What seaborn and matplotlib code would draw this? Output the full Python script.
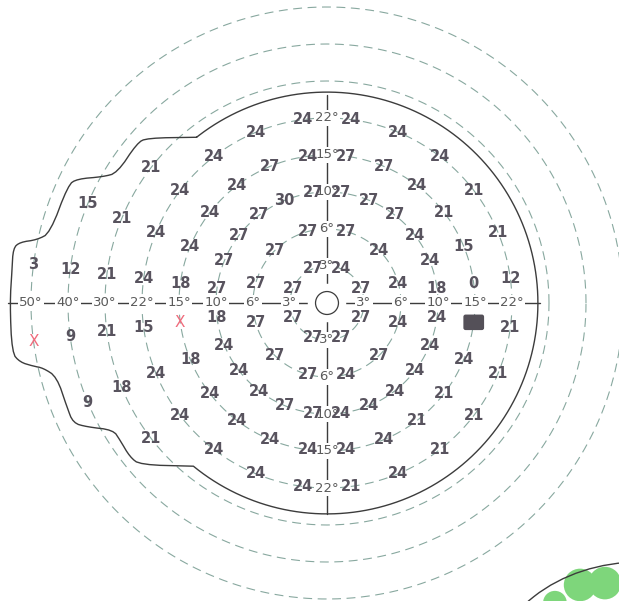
import numpy as np
import pandas as pd
import matplotlib
matplotlib.use('Agg')
import matplotlib.pyplot as plt
import seaborn as sns
from matplotlib.patches import Circle, FancyBboxPatch, Ellipse

# test rings (eccentricity in degrees); each ring is one display step further out
ring_ecc = [3, 6, 10, 15, 22, 30, 40, 50]

# meridians (deg, counter-clockwise from the right) and thresholds per ring
# None = stimulus not seen (drawn as X)
angles_3 = [22.5, 67.5, 112.5, 157.5, 202.5, 247.5, 292.5, 337.5]
vals_3 = [27, 24, 27, 27, 27, 27, 27, 27]

angles_6 = [15, 45, 75, 105, 135, 165, 195, 225, 255, 285, 315, 345]
vals_6 = [24, 24, 27, 27, 27, 27, 27, 27, 27, 24, 27, 24]

angles_10 = [7.5, 22.5, 37.5, 52.5, 67.5, 82.5, 97.5, 112.5, 127.5, 142.5, 157.5, 172.5,
             187.5, 202.5, 217.5, 232.5, 247.5, 262.5, 277.5, 292.5, 307.5, 322.5, 337.5, 352.5]
vals_10 = [18, 24, 24, 27, 27, 27, 27, 30, 27, 27, 27, 27,
           18, 24, 24, 24, 27, 27, 24, 24, 24, 24, 24, 24]

angles_15 = [7.5, 22.5, 37.5, 52.5, 67.5, 82.5, 97.5, 112.5, 127.5, 142.5, 157.5, 172.5,
             187.5, 202.5, 217.5, 232.5, 247.5, 262.5, 277.5, 292.5, 307.5, 322.5, 337.5]
vals_15 = [0, 15, 21, 24, 27, 27, 24, 27, 24, 24, 24, 18,
           None, 18, 24, 24, 24, 24, 24, 24, 21, 21, 24]

angles_22 = angles_10
vals_22 = [12, 21, 21, 24, 24, 24, 24, 24, 24, 24, 24, 24,
           15, 24, 24, 24, 24, 24, 21, 24, 21, 21, 21, 21]

angles_30 = [142.5, 157.5, 172.5, 187.5, 202.5, 217.5]
vals_30 = [21, 21, 21, 21, 18, 21]

angles_40 = [157.5, 172.5, 187.5, 202.5]
vals_40 = [15, 12, 9, 9]

angles_50 = [172.5, 187.5]
vals_50 = [3, None]

# blind spot (ecc, meridian)
blind_spot = (15, 352.5)

# tested-area outline on the temporal (left) side, display radius in ring steps
outline_angle = [128.2, 137.5, 139.9, 148.2, 150.6, 153.6, 155.5, 165.8, 167.7, 168.8, 170.1,
                 174.0, 180.0, 189.0, 190.9, 192.1, 192.9, 195.3, 201.8, 205.3, 207.3, 210.7,
                 213.5, 218.0, 220.9, 230.7]
outline_r = [5.70, 6.60, 6.71, 6.67, 6.95, 7.54, 7.69, 7.72, 8.02, 8.46, 8.61,
             8.56, 8.57, 8.62, 8.45, 8.13, 7.87, 7.57, 7.57, 7.59, 7.30, 6.72,
             6.71, 6.76, 6.68, 5.70]
outline_arc_r = 5.70

axis_left = ['50°', '40°', '30°', '22°', '15°', '10°', '6°', '3°']
axis_short = ['3°', '6°', '10°', '15°', '22°']

# corner of the neighbouring panel (cut off by the crop)
corner_x = [6.84, 7.51, 6.16]
corner_y = [-7.62, -7.57, -8.10]
corner_size = [0.44, 0.44, 0.32]

num_color = '#58535e'
grid_color = '#88a89f'


def disp_r(ecc):
    return np.interp(ecc, [0] + ring_ecc, np.arange(len(ring_ecc) + 1))


def to_xy(r, ang):
    a = np.deg2rad(np.asarray(ang, dtype=float))
    return r * np.cos(a), r * np.sin(a)


def round_corners(x, y, n=2):
    # chaikin corner cutting, ends kept fixed
    for _ in range(n):
        qx = 0.75 * x[:-1] + 0.25 * x[1:]
        qy = 0.75 * y[:-1] + 0.25 * y[1:]
        rx = 0.25 * x[:-1] + 0.75 * x[1:]
        ry = 0.25 * y[:-1] + 0.75 * y[1:]
        mx = np.empty(2 * qx.size)
        my = np.empty(2 * qy.size)
        mx[0::2], mx[1::2] = qx, rx
        my[0::2], my[1::2] = qy, ry
        x = np.concatenate([[x[0]], mx, [x[-1]]])
        y = np.concatenate([[y[0]], my, [y[-1]]])
    return x, y


rows = []
for ecc, angs, vals in [(3, angles_3, vals_3), (6, angles_6, vals_6), (10, angles_10, vals_10),
                        (15, angles_15, vals_15), (22, angles_22, vals_22), (30, angles_30, vals_30),
                        (40, angles_40, vals_40), (50, angles_50, vals_50)]:
    for a, v in zip(angs, vals):
        rows.append({'ecc': ecc, 'angle': a, 'value': v})
df = pd.DataFrame(rows)
df['x'], df['y'] = to_xy(disp_r(df['ecc'].values), df['angle'].values)

sns.set_theme(style='white')
plt.rcParams['font.family'] = ['DejaVu Sans']

fig = plt.figure(figsize=(6.19, 6.01), dpi=100)
ax = fig.add_axes([0, 0, 1, 1])
ax.set_xlim(-327 / 37, 292 / 37)
ax.set_ylim(-298 / 37, 303 / 37)
ax.set_aspect('equal')
ax.axis('off')

# dashed isopter rings
t = np.linspace(0, 360, 721)
for k in range(1, len(ring_ecc) + 1):
    cx, cy = to_xy(k, t)
    ax.plot(cx, cy, color=grid_color, lw=0.8, ls=(0, (8, 5)), zorder=1)

# outline of the tested area
lx, ly = to_xy(np.array(outline_r), outline_angle)
lx, ly = round_corners(lx, ly)
arc = np.linspace(outline_angle[-1], outline_angle[0] + 360, 300)
ax_, ay_ = to_xy(np.full(arc.size, outline_arc_r), arc)
ox = np.concatenate([lx, ax_])
oy = np.concatenate([ly, ay_])
sns.lineplot(x=ox, y=oy, sort=False, estimator=None, color='#3c3c3c', lw=1.0, ax=ax, zorder=2)

# axes through fixation
ax.plot([-8.62, outline_arc_r + 0.05], [0, 0], color='#3c3c3c', lw=1.0, zorder=2)
ax.plot([0, 0], [-outline_arc_r, outline_arc_r - 0.08], color='#3c3c3c', lw=1.0, zorder=2)
ax.add_patch(Circle((0, 0), 0.52, fc='white', ec='none', zorder=3))
ax.add_patch(Circle((0, 0), 0.31, fc='white', ec='#3c3c3c', lw=0.9, zorder=4))

lab_kw = dict(ha='center', va='center', fontsize=9.5, color='#5a5a5a', zorder=5,
              bbox=dict(boxstyle='square,pad=0.08', fc='white', ec='none'))
for i, s in enumerate(axis_left):
    ax.text(-(len(axis_left) - i), 0, s, **lab_kw)
for i, s in enumerate(axis_short):
    ax.text(i + 1, 0, s, **lab_kw)
    ax.text(0, i + 1, s, **lab_kw)
    ax.text(0, -(i + 1), s, **lab_kw)

# thresholds
for _, p in df.iterrows():
    if p['value'] is None or pd.isna(p['value']):
        ax.text(p['x'], p['y'], 'X', ha='center', va='center', fontsize=11,
                color='#f06b7c', zorder=6)
    else:
        ax.text(p['x'], p['y'], str(int(p['value'])), ha='center', va='center',
                fontsize=10.5, fontweight='bold', color=num_color, zorder=6)

# blind spot
bx, by = to_xy(disp_r(blind_spot[0]), blind_spot[1])
ax.add_patch(FancyBboxPatch((bx - 0.22, by - 0.15), 0.44, 0.30,
                            boxstyle='round,pad=0.06', fc='#545058', ec='none', zorder=6))

# clipped neighbour panel in the corner
for x, y, s in zip(corner_x, corner_y, corner_size):
    ax.add_patch(Circle((x, y), s, fc='#7ed67b', ec='none', zorder=2))
ax.add_patch(Ellipse((8.46, -10.19), 8.11, 6.38, fc='none', ec='#3c3c3c', lw=1.0, zorder=3))

fig.savefig('out.png', dpi=100)
